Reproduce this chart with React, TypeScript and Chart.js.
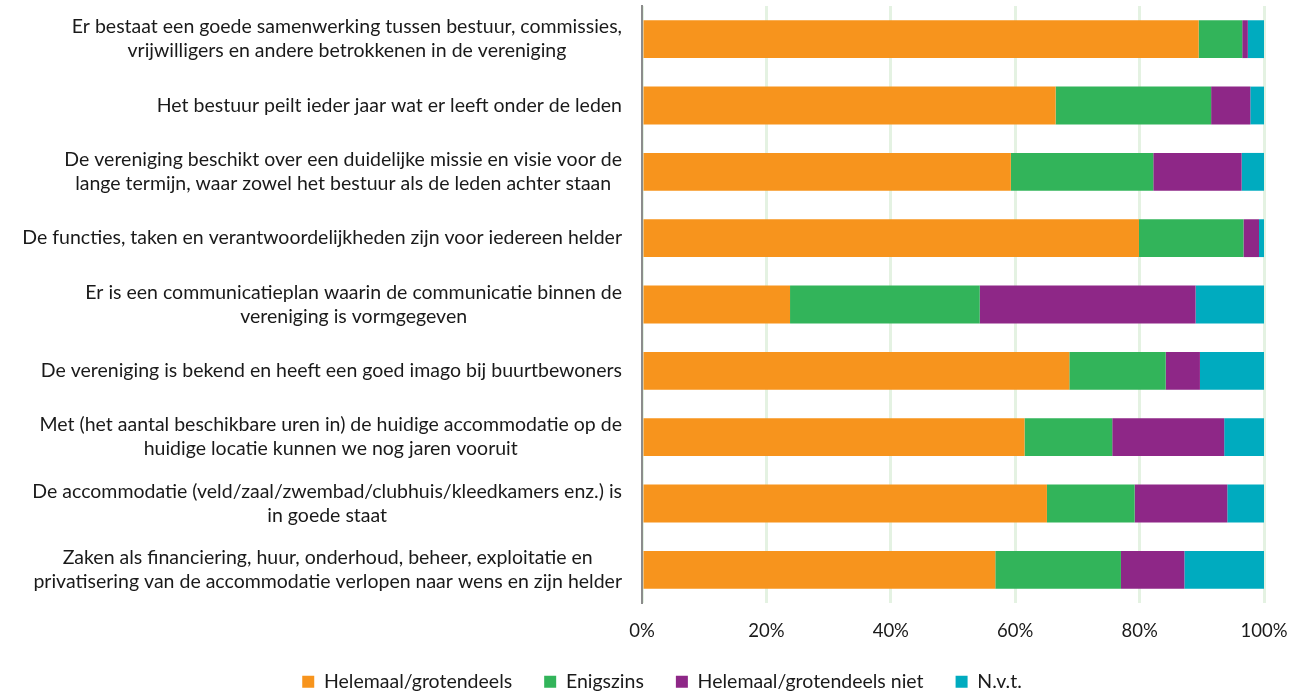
import React, { useEffect, useRef } from "react";
import Chart from "chart.js/auto";

const categories: string[][] = [
  ["Er bestaat een goede samenwerking tussen bestuur, commissies,", "vrijwilligers en andere betrokkenen in de vereniging"],
  ["Het bestuur peilt ieder jaar wat er leeft onder de leden"],
  ["De vereniging beschikt over een duidelijke missie en visie voor de", "lange termijn, waar zowel het bestuur als de leden achter staan"],
  ["De functies, taken en verantwoordelijkheden zijn voor iedereen helder"],
  ["Er is een communicatieplan waarin de communicatie binnen de", "vereniging is vormgegeven"],
  ["De vereniging is bekend en heeft een goed imago bij buurtbewoners"],
  ["Met (het aantal beschikbare uren in) de huidige accommodatie op de", "huidige locatie kunnen we nog jaren vooruit"],
  ["De accommodatie (veld/zaal/zwembad/clubhuis/kleedkamers enz.) is", "in goede staat"],
  ["Zaken als financiering, huur, onderhoud, beheer, exploitatie en", "privatisering van de accommodatie verlopen naar wens en zijn helder"],
];

const seriesNames = ["Helemaal/grotendeels", "Enigszins", "Helemaal/grotendeels niet", "N.v.t."];
const helemaal = [89.5, 66.5, 59.3, 79.9, 23.8, 68.7, 61.5, 65.1, 56.8];
const enigszins = [7.0, 25.0, 22.9, 16.8, 30.5, 15.5, 14.1, 14.1, 20.2];
const niet = [0.9, 6.3, 14.2, 2.5, 34.7, 5.5, 18.0, 14.9, 10.2];
const nvt = [2.6, 2.2, 3.6, 0.8, 11.0, 10.3, 6.4, 5.9, 12.8];
const colors = ["#F7941D", "#32B45A", "#8E2787", "#00ABBF"];
const xTicks = [0, 20, 40, 60, 80, 100];

const FONT = 'Lato, "Open Sans", sans-serif';
const FSIZE = 19.5;
const TEXT = "#1a1a1a";

const labelPlugin = {
  id: "blockLabels",
  afterInit(chart: any) {
    const lg = chart.legend;
    if (lg) {
      const orig = lg.fit.bind(lg);
      lg.fit = function () {
        orig();
        this.height = 52;
      };
    }
  },
  afterDraw(chart: any) {
    const ctx = chart.ctx;
    const yScale = chart.scales.y;
    const xScale = chart.scales.x;
    const rightEdge = xScale.left - 20;
    ctx.save();
    ctx.font = `${FSIZE}px ${FONT}`;
    ctx.fillStyle = TEXT;
    ctx.textAlign = "center";
    ctx.textBaseline = "middle";
    const lh = 24;
    categories.forEach((lines, i) => {
      const cy = yScale.getPixelForValue(i);
      const widest = Math.max(...lines.map((l) => ctx.measureText(l).width));
      const cx = rightEdge - widest / 2;
      const y0 = cy - ((lines.length - 1) * lh) / 2;
      lines.forEach((l, j) => ctx.fillText(l, cx, y0 + j * lh));
    });
    ctx.restore();
  },
};

export default function App() {
  const ref = useRef<HTMLCanvasElement>(null);
  useEffect(() => {
    document.body.style.margin = "0";
    const data = [helemaal, enigszins, niet, nvt];
    const chart = new Chart(ref.current!, {
      type: "bar",
      data: {
        labels: categories.map((c) => c.join(" ")),
        datasets: seriesNames.map((name, k) => ({
          label: name,
          data: data[k],
          backgroundColor: colors[k],
          borderWidth: 0,
          categoryPercentage: 0.57,
          barPercentage: 1,
        })),
      },
      options: {
        indexAxis: "y",
        animation: false,
        responsive: false,
        layout: { padding: { top: 6, right: 42, left: 60, bottom: 0 } },
        plugins: {
          tooltip: { enabled: false },
          legend: {
            position: "bottom",
            labels: {
              boxWidth: 12,
              boxHeight: 12,
              padding: 32,
              color: TEXT,
              font: { family: FONT, size: FSIZE },
            },
          },
        },
        scales: {
          x: {
            stacked: true,
            min: 0,
            max: 100,
            afterBuildTicks: (s: any) => {
              s.ticks = xTicks.map((v) => ({ value: v }));
            },
            afterFit: (s: any) => {
              s.height = 37;
            },
            ticks: {
              padding: 17,
              color: TEXT,
              font: { family: FONT, size: 18.5 },
              callback: (v: any) => v + "%",
              maxRotation: 0,
            },
            grid: { color: "#E4F2E2", lineWidth: 3, drawTicks: false },
            border: { display: false },
          },
          y: {
            stacked: true,
            ticks: { display: false },
            grid: { display: false, drawTicks: false },
            border: { display: true, color: "#8C8C8C", width: 2 },
            afterFit: (s: any) => {
              s.width = 582;
            },
          },
        },
      },
      plugins: [labelPlugin],
    });
    return () => chart.destroy();
  }, []);
  return <canvas ref={ref} width={1306} height={692} style={{ display: "block" }} />;
}
